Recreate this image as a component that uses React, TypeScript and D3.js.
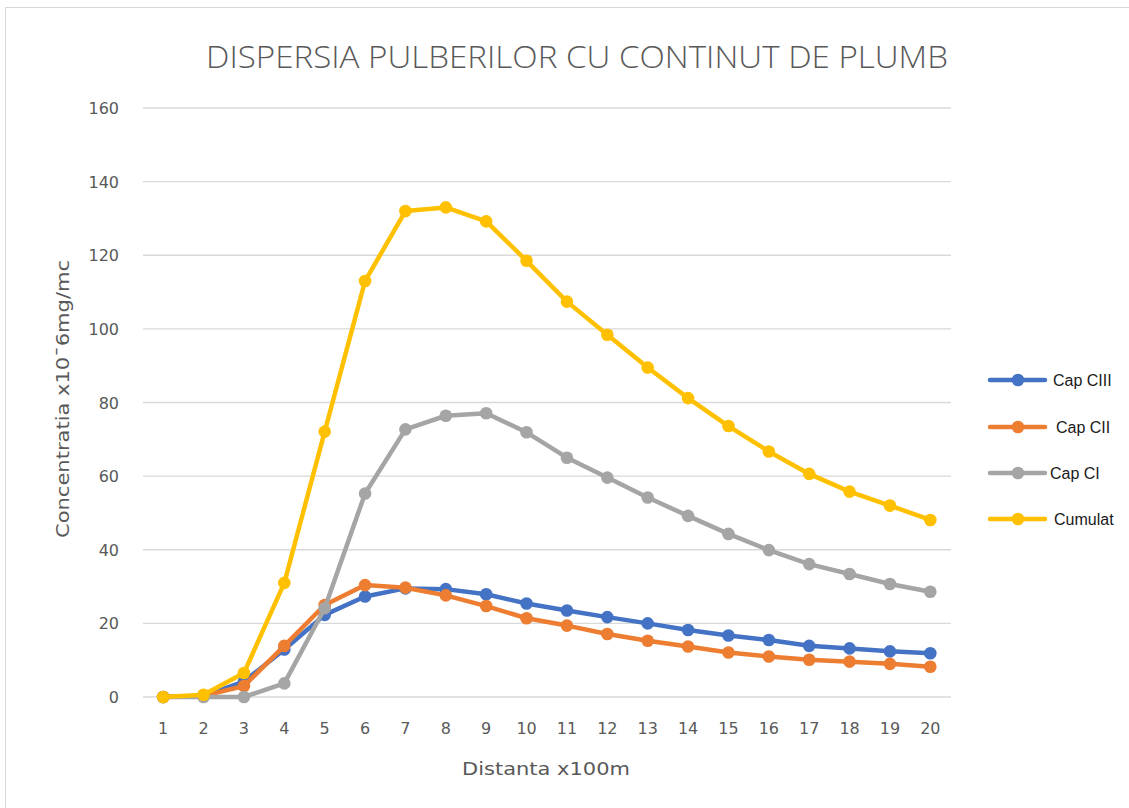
import React from "react";
import * as d3 from "d3";

const categories = ["1","2","3","4","5","6","7","8","9","10","11","12","13","14","15","16","17","18","19","20"];
const capCIII = [0, 0.3, 4.2, 12.9, 22.3, 27.3, 29.5, 29.3, 27.9, 25.4, 23.5, 21.7, 20.0, 18.2, 16.7, 15.5, 13.9, 13.2, 12.4, 11.9];
const capCII = [0, 0.3, 3.0, 13.9, 25.0, 30.4, 29.7, 27.6, 24.7, 21.4, 19.4, 17.1, 15.3, 13.7, 12.1, 11.0, 10.1, 9.6, 9.0, 8.2];
const capCI = [0, 0, 0, 3.7, 24.1, 55.3, 72.7, 76.4, 77.1, 71.9, 65.0, 59.6, 54.2, 49.2, 44.3, 39.9, 36.1, 33.4, 30.7, 28.6];
const cumulat = [0, 0.6, 6.5, 31.0, 72.1, 113.0, 132.0, 133.0, 129.2, 118.5, 107.4, 98.4, 89.5, 81.2, 73.6, 66.7, 60.6, 55.8, 52.0, 48.1];
const yTicks = [0, 20, 40, 60, 80, 100, 120, 140, 160];

const series = [
  { name: "Cap CIII", values: capCIII, color: "#4472C4", dx: 0 },
  { name: "Cap CII", values: capCII, color: "#ED7D31", dx: 3 },
  { name: "Cap CI", values: capCI, color: "#A5A5A5", dx: -3 },
  { name: "Cumulat", values: cumulat, color: "#FFC000", dx: 1 },
];

const AX_FONT = "'DejaVu Sans', Verdana, sans-serif";

export default function App() {
  const W = 1129, H = 808;
  const x = d3.scaleBand<string>().domain(categories).range([143, 950.5]);
  const y = d3.scaleLinear().domain([0, 160]).range([697, 108]);
  const cx = (c: string) => (x(c) as number) + x.bandwidth() / 2;
  const line = d3.line<number>().x((_, i) => cx(categories[i])).y((v) => y(v));
  const legendY = [380, 427, 473, 519];

  return (
    <svg width={W} height={H} style={{ position: "absolute", left: 0, top: 0, background: "#fff" }}>
      <rect x={5.5} y={7.5} width={W + 10} height={H + 10} fill="#fff" stroke="#d9d9d9" strokeWidth={1} />
      <text x={577} y={68} textAnchor="middle" fontFamily="'Open Sans', sans-serif" fontWeight={300} fontSize={31} fill="#595959" textLength={742} lengthAdjust="spacingAndGlyphs">
        DISPERSIA PULBERILOR CU CONTINUT DE PLUMB
      </text>
      {yTicks.map((t) => (
        <g key={t}>
          <line x1={143} x2={951} y1={y(t)} y2={y(t)} stroke="#d9d9d9" strokeWidth={1.3} />
          <text x={119} y={y(t) + 6} textAnchor="end" fontFamily={AX_FONT} fontSize={16} fill="#595959">{t}</text>
        </g>
      ))}
      {categories.map((c) => (
        <text key={c} x={cx(c)} y={734} textAnchor="middle" fontFamily={AX_FONT} fontSize={16} fill="#595959">{c}</text>
      ))}
      <text x={546} y={775} textAnchor="middle" fontFamily={AX_FONT} fontSize={17} fill="#595959" textLength={168} lengthAdjust="spacingAndGlyphs">Distanta x100m</text>
      <text transform="translate(69,399) rotate(-90)" textAnchor="middle" fontFamily={AX_FONT} fontSize={17} fill="#595959" textLength={278} lengthAdjust="spacingAndGlyphs">Concentratia x10¯6mg/mc</text>
      {series.map((s) => (
        <g key={s.name}>
          <path d={line(s.values) || ""} fill="none" stroke={s.color} strokeWidth={4.5} strokeLinejoin="round" strokeLinecap="round" />
          {s.values.map((v, i) => (
            <circle key={i} cx={cx(categories[i])} cy={y(v)} r={6.3} fill={s.color} />
          ))}
        </g>
      ))}
      {series.map((s, i) => (
        <g key={s.name}>
          <line x1={990} x2={1045} y1={legendY[i]} y2={legendY[i]} stroke={s.color} strokeWidth={4.5} strokeLinecap="round" />
          <circle cx={1018} cy={legendY[i]} r={6.3} fill={s.color} />
          <text x={1053 + s.dx} y={legendY[i] + 6} fontFamily="'Liberation Sans', Arial, sans-serif" fontSize={16} fill="#1a1a1a">{s.name}</text>
        </g>
      ))}
    </svg>
  );
}
